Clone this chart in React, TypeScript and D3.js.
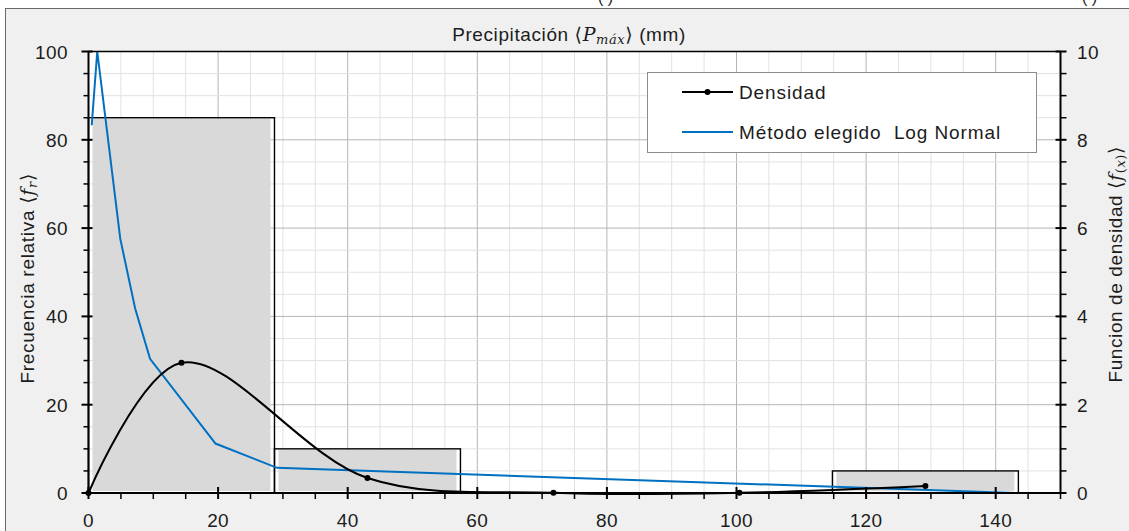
import React from 'react';
import * as d3 from 'd3';

// histograma: límites de clase y frecuencia relativa (%)
const binEdges = [0, 28.7, 57.4, 86.1, 114.8, 143.5];
const binFreq = [85, 10, 0, 0, 5];

// curva "Densidad" (en escala izquierda)
const densX = [0, 14.35, 43.05, 71.75, 100.45, 129.15];
const densY = [0, 29.5, 3.4, 0.05, 0.05, 1.6];

// curva Log Normal (en escala izquierda)
const logX = [0.5, 1.35, 4.9, 7.2, 9.5, 19.6, 29.1, 143.0];
const logY = [83.3, 100, 57.6, 41.8, 30.4, 11.2, 5.7, 0];

const xTicks = [0, 20, 40, 60, 80, 100, 120, 140];
const leftTicks = [0, 20, 40, 60, 80, 100];
const rightTicks = [0, 2, 4, 6, 8, 10];

const FONT = '"Liberation Sans", Arial, sans-serif';
const TXT = '#1c1c1c';
const FS = 19;
const LS = 0.4;

export default function App() {
  const W = 1129, H = 531;
  const x = d3.scaleLinear().domain([0, 150]).range([88.5, 1060.5]);
  const yL = d3.scaleLinear().domain([0, 100]).range([493, 51.5]);
  const yR = d3.scaleLinear().domain([0, 10]).range([493, 51.5]);

  const minorX = d3.range(0, 151, 5);
  const minorY = d3.range(0, 101, 5);
  const minorR = d3.range(0, 10.01, 0.5);

  const densLine = d3.line<number>()
    .x((_, i) => x(densX[i]))
    .y((d) => yL(d))
    .curve(d3.curveCatmullRom.alpha(0.5));
  const logLine = d3.line<number>()
    .x((_, i) => x(logX[i]))
    .y((d) => yL(d));

  const [x0, x1] = x.range();
  const [yb, yt] = yL.range();

  const txt = { fontFamily: FONT, fontSize: FS, fill: TXT, letterSpacing: LS };

  return (
    <svg width={W} height={H} style={{ position: 'absolute', left: 0, top: 0 }}>
      <rect x={0} y={0} width={W} height={H} fill="#ffffff" />
      <text x={598} y={3} fontFamily={FONT} fontSize={16} fill={TXT}>( )</text>
      <text x={1082} y={3} fontFamily={FONT} fontSize={16} fill={TXT}>( )</text>
      <rect x={5.5} y={8.5} width={W + 10} height={H + 10} fill="#f0f0f0" stroke="#6a6a6a" strokeWidth={1} />

      {/* área del gráfico */}
      <rect x={x0} y={yt} width={x1 - x0} height={yb - yt} fill="#ffffff" />
      {minorX.map((v) => (
        <line key={'gx' + v} x1={x(v)} x2={x(v)} y1={yt} y2={yb}
          stroke={v % 20 === 0 ? '#b4b4b4' : '#e2e2e2'} strokeWidth={1} />
      ))}
      {minorY.map((v) => (
        <line key={'gy' + v} x1={x0} x2={x1} y1={yL(v)} y2={yL(v)}
          stroke={v % 20 === 0 ? '#b4b4b4' : '#e2e2e2'} strokeWidth={1} />
      ))}

      {/* barras */}
      {binFreq.map((f, i) => f > 0 && (
        <g key={'b' + i}>
          <rect x={x(binEdges[i]) + 4} y={yL(f) + 1} width={x(binEdges[i + 1]) - x(binEdges[i]) - 8}
            height={yL(0) - yL(f) - 3} fill="#d9d9d9" />
          <rect x={x(binEdges[i])} y={yL(f)} width={x(binEdges[i + 1]) - x(binEdges[i])}
            height={yL(0) - yL(f)} fill="none" stroke="#000" strokeWidth={1.4} />
        </g>
      ))}

      {/* curvas */}
      <path d={logLine(logY) || ''} fill="none" stroke="#0070c0" strokeWidth={2} />
      <path d={densLine(densY) || ''} fill="none" stroke="#000" strokeWidth={2} />
      {densY.map((d, i) => (
        <circle key={'d' + i} cx={x(densX[i])} cy={yL(d)} r={3} fill="#000" />
      ))}

      {/* borde superior */}
      <line x1={x0} x2={x1} y1={yt} y2={yt} stroke="#000" strokeWidth={1.5} />

      {/* eje inferior */}
      <line x1={x0} x2={x1} y1={yb} y2={yb} stroke="#000" strokeWidth={2} />
      {minorX.map((v) => (
        <line key={'tx' + v} x1={x(v)} x2={x(v)} y1={v % 20 === 0 ? yb - 6 : yb} y2={yb + 6}
          stroke="#000" strokeWidth={v % 20 === 0 ? 2 : 1.5} />
      ))}
      {xTicks.map((v) => (
        <text key={'lx' + v} x={x(v)} y={527} textAnchor="middle" {...txt}>{v}</text>
      ))}

      {/* eje izquierdo */}
      <line x1={x0} x2={x0} y1={yt} y2={yb} stroke="#000" strokeWidth={2} />
      {minorY.map((v) => (
        <line key={'ty' + v} x1={v % 20 === 0 ? x0 - 7 : x0 - 5} x2={v % 20 === 0 ? x0 + 4 : x0} y1={yL(v)} y2={yL(v)}
          stroke="#000" strokeWidth={v % 20 === 0 ? 2 : 1.5} />
      ))}
      {leftTicks.map((v) => (
        <text key={'ly' + v} x={68} y={yL(v) + 7} textAnchor="end" {...txt}>{v}</text>
      ))}

      {/* eje derecho */}
      <line x1={x1} x2={x1} y1={yt} y2={yb} stroke="#000" strokeWidth={2} />
      {minorR.map((v) => {
        const major = Math.abs(v % 2) < 1e-6;
        return (
          <line key={'tr' + v} x1={major ? x1 - 5 : x1} x2={x1 + 6} y1={yR(v)} y2={yR(v)}
            stroke="#000" strokeWidth={major ? 2 : 1.5} />
        );
      })}
      {rightTicks.map((v) => (
        <text key={'ry' + v} x={1077} y={yR(v) + 7} textAnchor="start" {...txt}>{v}</text>
      ))}

      {/* título */}
      <text x={569} y={41} textAnchor="middle" {...txt} letterSpacing={0.6}>
        Precipitación <tspan fontFamily="DejaVu Serif">⟨</tspan>
        <tspan fontFamily="DejaVu Serif" fontStyle="italic">P</tspan>
        <tspan fontFamily="DejaVu Serif" fontStyle="italic" fontSize={13} dy={3}>máx</tspan>
        <tspan fontFamily="DejaVu Serif" dy={-3}>⟩</tspan> (mm)
      </text>

      {/* etiqueta izquierda */}
      <text transform={`translate(34,${(yt + yb) / 2 + 6}) rotate(-90)`} textAnchor="middle" {...txt} letterSpacing={0.7}>
        Frecuencia relativa <tspan fontFamily="DejaVu Serif">⟨</tspan>
        <tspan fontFamily="DejaVu Serif" fontStyle="italic">f</tspan>
        <tspan fontFamily="DejaVu Serif" fontStyle="italic" fontSize={13} dy={3}>r</tspan>
        <tspan fontFamily="DejaVu Serif" dy={-3}>⟩</tspan>
      </text>

      {/* etiqueta derecha */}
      <text transform={`translate(1122,${(yt + yb) / 2 - 8}) rotate(-90)`} textAnchor="middle" {...txt} letterSpacing={0.6}>
        Funcion de densidad <tspan fontFamily="DejaVu Serif">⟨</tspan>
        <tspan fontFamily="DejaVu Serif" fontStyle="italic">f</tspan>
        <tspan fontFamily="DejaVu Serif" fontSize={13} dy={3}>(</tspan>
        <tspan fontFamily="DejaVu Serif" fontStyle="italic" fontSize={13}>x</tspan>
        <tspan fontFamily="DejaVu Serif" fontSize={13}>)</tspan>
        <tspan fontFamily="DejaVu Serif" dy={-3}>⟩</tspan>
      </text>

      {/* leyenda */}
      <rect x={647.5} y={72.5} width={389} height={80} fill="#ffffff" stroke="#8c8c8c" strokeWidth={1} />
      <line x1={682} x2={733} y1={92} y2={92} stroke="#000" strokeWidth={2} />
      <circle cx={707.5} cy={92} r={3} fill="#000" />
      <text x={739} y={98.5} {...txt} letterSpacing={0.9}>Densidad</text>
      <line x1={682} x2={733} y1={132} y2={132} stroke="#0070c0" strokeWidth={2} />
      <text x={739} y={138.5} {...txt} letterSpacing={0.9} style={{ whiteSpace: 'pre' }}>Método elegido  Log Normal</text>
    </svg>
  );
}
